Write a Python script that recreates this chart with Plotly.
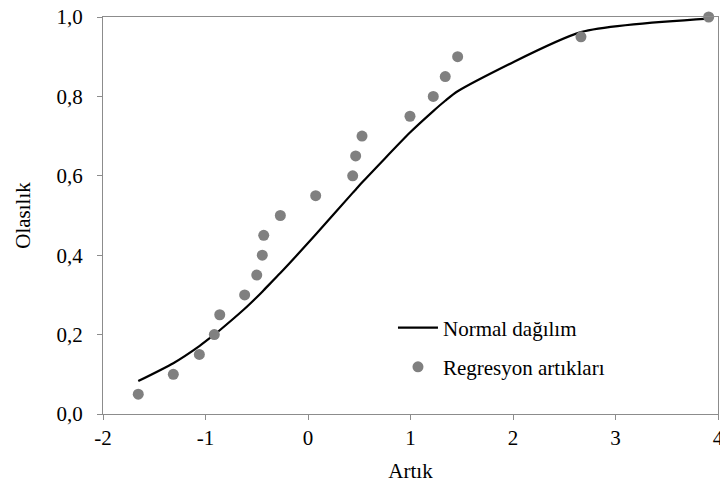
import plotly.graph_objects as go

# Regression residuals (x) and their cumulative probabilities (y)
residuals = [-1.656, -1.314, -1.060, -0.914, -0.861, -0.618, -0.500, -0.446, -0.432, -0.270,
             0.075, 0.436, 0.465, 0.527, 0.995, 1.222, 1.339, 1.460, 2.663, 3.909]
probabilities = [0.05, 0.10, 0.15, 0.20, 0.25, 0.30, 0.35, 0.40, 0.45, 0.50,
                 0.55, 0.60, 0.65, 0.70, 0.75, 0.80, 0.85, 0.90, 0.95, 1.00]
# Normal distribution curve values read at the same residuals
normal_curve = [0.083, 0.128, 0.171, 0.200, 0.211, 0.265, 0.294, 0.308, 0.312, 0.355,
                0.452, 0.557, 0.565, 0.583, 0.709, 0.763, 0.789, 0.813, 0.962, 0.996]

x_ticks = [-2, -1, 0, 1, 2, 3, 4]
y_ticks = [0.0, 0.2, 0.4, 0.6, 0.8, 1.0]

FONT = "Times New Roman, Liberation Serif, serif"
FS = 21

fig = go.Figure()
fig.add_trace(go.Scatter(
    x=residuals, y=normal_curve, mode="lines", name="Normal dağılım",
    line=dict(color="#000000", width=2.2, shape="spline", smoothing=0.6),
    legend="legend"))
fig.add_trace(go.Scatter(
    x=residuals, y=probabilities, mode="markers", name="Regresyon artıkları",
    marker=dict(color="#808080", size=11), cliponaxis=False, legend="legend2"))

axis_common = dict(showline=True, linecolor="#8c8c8c", linewidth=1.3, mirror=True,
                   showgrid=False, zeroline=False, ticks="outside", ticklen=5,
                   tickcolor="#8c8c8c", tickwidth=1.3, automargin=False,
                   ticklabeloverflow="allow",
                   tickfont=dict(family=FONT, size=FS, color="#000000"))

legend_common = dict(xanchor="left", yanchor="middle", bgcolor="rgba(0,0,0,0)",
                     font=dict(family=FONT, size=FS, color="#000000"), itemwidth=40)

fig.update_layout(
    width=720, height=483,
    margin=dict(l=103, r=2, t=17, b=69),
    paper_bgcolor="white", plot_bgcolor="white",
    separators=",.",
    font=dict(family=FONT, size=FS, color="#000000"),
    showlegend=True,
    legend=dict(x=0.4715, y=0.2166, **legend_common),
    legend2=dict(x=0.4715, y=0.118, **legend_common),
    xaxis=dict(range=[-2, 4], tickvals=x_ticks, ticktext=[str(t) for t in x_ticks],
               title=dict(text="Artık", font=dict(family=FONT, size=FS), standoff=23),
               **axis_common),
    yaxis=dict(range=[0, 1], tickvals=y_ticks, tickformat=".1f", ticklabelstandoff=10,
               title=dict(text="Olasılık", font=dict(family=FONT, size=FS), standoff=20),
               **axis_common),
)

fig.write_html("out.html", config={"displayModeBar": False},
               post_script="document.body.style.margin='0';")
